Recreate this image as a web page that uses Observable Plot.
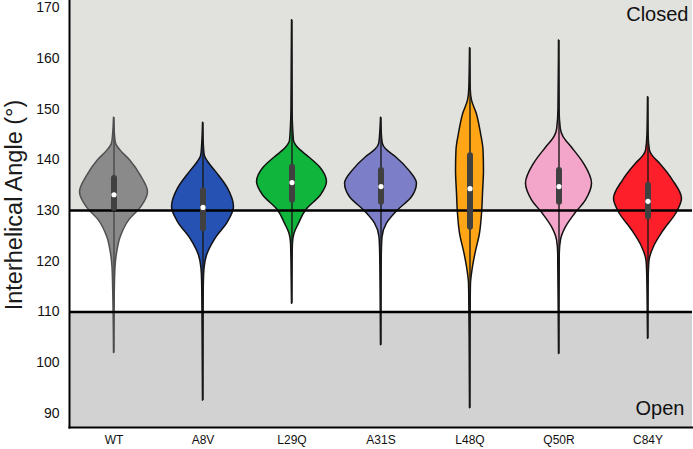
<!DOCTYPE html>
<html><head><meta charset="utf-8">
<script src="https://cdn.jsdelivr.net/npm/d3@7"></script>
<script src="https://cdn.jsdelivr.net/npm/@observablehq/plot@0.6"></script>
<style>body{margin:0;background:#fff} svg{display:block}</style>
</head><body><div id="chart"></div>
<script>
// ---- data ----
const groups = ["WT","A8V","L29Q","A31S","L48Q","Q50R","C84Y"];
const yTicks = [90,100,110,120,130,140,150,160,170];
const yBottom = 87.2, yTop = 171.4;
const closedFrom = 130, openBelow = 110;

const angleMin = [101.9, 92.5, 111.6, 103.4, 91.0, 101.7, 104.7];
const angleMax = [148.3, 147.3, 167.5, 148.3, 162.0, 163.5, 152.3];
const q1      = [130.4, 126.4, 132.0, 131.6, 126.7, 131.6, 128.7];
const q3      = [136.3, 133.9, 138.5, 137.9, 140.8, 137.9, 134.9];
const medians = [133.1, 130.6, 135.5, 134.7, 134.3, 134.7, 131.8];

// density profiles: [angle, half-width as fraction of category spacing]
const profWT   = [[101.9,0],[108,0.003],[114.2,0.009],[118.8,0.017],[121.5,0.034],[124.7,0.075],[128.0,0.169],[130.7,0.309],[133.6,0.382],[136.6,0.309],[139.9,0.18],[141.8,0.075],[143.2,0.022],[146,0.006],[148.3,0]];
const profA8V  = [[92.5,0],[105,0.004],[116,0.01],[118.5,0.017],[121.1,0.045],[124.4,0.14],[127.7,0.281],[130.7,0.348],[134.3,0.281],[137.6,0.146],[139.5,0.06],[140.8,0.02],[144,0.006],[147.3,0]];
const profL29Q = [[111.6,0],[120,0.006],[123.5,0.011],[125.4,0.028],[127.4,0.079],[130.0,0.157],[133.0,0.326],[135.6,0.393],[138.5,0.315],[140.5,0.191],[142.3,0.07],[143.8,0.022],[150,0.006],[167.5,0]];
const profA31S = [[103.4,0],[115,0.005],[122,0.01],[124.7,0.017],[127.4,0.067],[130.0,0.191],[132.6,0.348],[135.3,0.404],[137.9,0.315],[140.5,0.169],[142,0.06],[143.2,0.02],[146,0.006],[148.3,0]];
const profL48Q = [[91,0],[105,0.004],[112,0.008],[115.5,0.011],[118.2,0.028],[121.5,0.062],[125.4,0.112],[129.3,0.135],[133.3,0.146],[137.9,0.157],[141.8,0.152],[145.1,0.124],[149.1,0.075],[151.7,0.022],[154,0.008],[162,0]];
const profQ50R = [[101.7,0],[112,0.004],[119,0.008],[121.5,0.009],[124.1,0.022],[126.7,0.079],[129.3,0.18],[132.0,0.303],[135.3,0.371],[139.2,0.281],[142.5,0.14],[144.5,0.05],[146.1,0.02],[150,0.006],[163.5,0]];
const profC84Y = [[104.7,0],[112,0.004],[118,0.01],[120.1,0.017],[122.8,0.067],[126.1,0.18],[129.3,0.315],[132.3,0.382],[135.9,0.281],[139.2,0.135],[140.8,0.05],[141.8,0.022],[145,0.006],[152.3,0]];
const profiles = [profWT, profA8V, profL29Q, profA31S, profL48Q, profQ50R, profC84Y];

// ---- styles ----
const fills = ["#8a8a8a","#2652b3","#10b53c","#7c7ec8","#ffa516","#f3a6c9","#fd1f2a"];
const outline = ["#505050","#111","#111","#111","#111","#111","#111"];
const font = "'Liberation Sans', Arial, Helvetica, sans-serif";

const marks = [
  Plot.rect([[closedFrom, yTop]], {y1: d => d[0], y2: d => d[1], fill: "#e1e1dd"}),
  Plot.rect([[yBottom, openBelow]], {y1: d => d[0], y2: d => d[1], fill: "#d2d2d2"})
];
groups.forEach((g, i) => {
  marks.push(Plot.areaX(profiles[i], {
    y: d => d[0], x1: d => i - d[1], x2: d => i + d[1],
    curve: "monotone-y", fill: fills[i], stroke: outline[i], strokeWidth: 1.5
  }));
});
groups.forEach((g, i) => {
  marks.push(Plot.ruleX([i], {x: d => d, y1: angleMin[i], y2: angleMax[i], stroke: i === 0 ? "#4a4a4a" : "#1a1a1a", strokeWidth: 1.4}));
});
marks.push(Plot.ruleY([closedFrom, openBelow], {stroke: "#000", strokeWidth: 2.5}));
groups.forEach((g, i) => {
  marks.push(Plot.ruleX([i], {x: d => d, y1: q1[i], y2: q3[i], stroke: "#404040", strokeWidth: 6, strokeLinecap: "round"}));
  marks.push(Plot.dot([i], {x: d => d, y: medians[i], r: 2.6, fill: "#fff", stroke: "none"}));
});
marks.push(
  Plot.frame({anchor: "left", stroke: "#000", strokeWidth: 2}),
  Plot.frame({anchor: "bottom", stroke: "#000", strokeWidth: 2}),
  Plot.axisY({ticks: yTicks, tickSize: 0, tickPadding: 10, fontSize: 14, label: null}),
  Plot.axisX({ticks: d3.range(groups.length), tickFormat: i => groups[i], tickSize: 0, tickPadding: 8, fontSize: 12, label: null}),
  Plot.text(["Interhelical Angle (°)"], {frameAnchor: "left", textAnchor: "middle", dx: -55, dy: -9, rotate: -90, fontSize: 23.5, fill: "#1a1a1a"}),
  Plot.text(["Closed"], {frameAnchor: "top-right", textAnchor: "end", lineAnchor: "middle", dx: -4, dy: 14, fontSize: 20, fill: "#111"}),
  Plot.text(["Open"], {frameAnchor: "bottom-right", textAnchor: "end", lineAnchor: "middle", dx: -8, dy: -19, fontSize: 20, fill: "#111"})
);

const chart = Plot.plot({
  width: 693, height: 449,
  marginLeft: 69, marginRight: 1, marginTop: 0, marginBottom: 22,
  style: {fontFamily: font, background: "#fff", color: "#111"},
  x: {domain: [-0.5, groups.length - 0.5]},
  y: {domain: [yBottom, yTop]},
  marks
});
document.getElementById("chart").appendChild(chart);
</script>
</body></html>
